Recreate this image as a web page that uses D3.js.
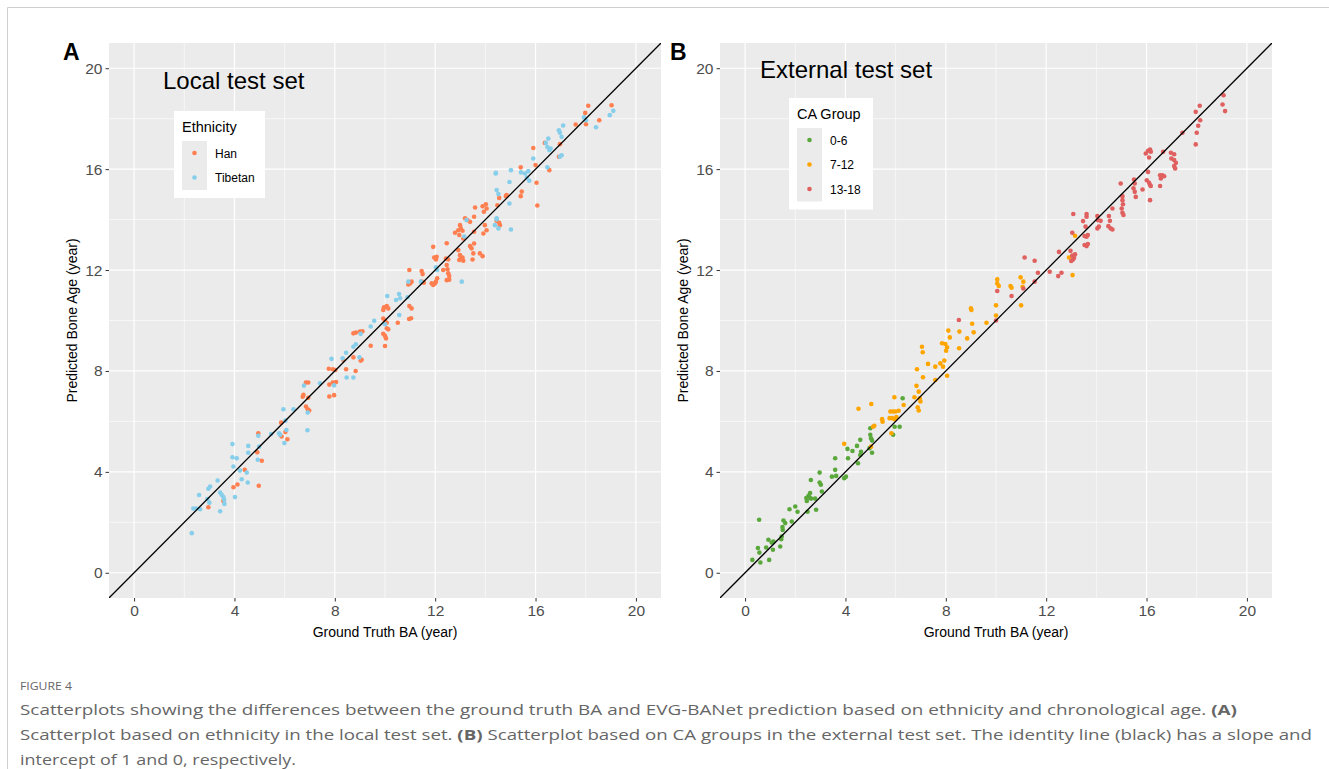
<!DOCTYPE html>
<html>
<head>
<meta charset="utf-8">
<script src="https://cdn.jsdelivr.net/npm/d3@7"></script>
<style>
  body { margin: 0; background: #fff; }
  svg { display: block; }
</style>
</head>
<body>
<svg id="fig" width="1329" height="769"></svg>
<script>
// tick values shared by both panels
const ticks = [0, 4, 8, 12, 16, 20];
const minorTicks = [2, 6, 10, 14, 18];

// panel A: [ground truth BA, predicted BA]
const hanPoints = [
  [2.96,2.60],[3.56,2.85],[3.96,3.39],[4.12,3.50],[4.41,4.08],[4.91,4.78],[5.09,4.44],[4.95,5.53],[4.97,3.45],
  [5.86,5.95],[6.03,5.58],[5.88,5.40],[6.11,5.29],[6.85,6.59],[6.92,6.48],[6.98,6.43],[6.94,6.94],[6.72,6.98],
  [6.75,7.05],[6.85,7.54],[6.94,7.54],[7.76,8.09],[7.92,8.07],[8.02,8.04],[7.78,7.46],[7.92,7.54],[8.05,7.56],
  [7.78,6.99],[7.97,7.04],[8.45,8.07],[8.83,8.0],[8.34,8.44],[8.74,8.54],[8.74,9.49],[8.84,9.52],
  [9.03,8.41],[9.07,8.44],[9.0,9.56],[9.10,9.57],[9.43,9.00],[9.93,9.47],[10.0,9.39],[10.04,9.29],[10.0,8.99],
  [10.07,9.69],[10.13,9.65],[9.93,10.08],[10.0,9.99],[10.07,9.91],[9.96,10.52],[10.07,10.57],[10.13,10.48],
  [9.93,10.42],[10.51,9.91],[10.97,10.57],[11.06,10.48],[10.96,10.06],[11.04,10.09],[11.0,11.47],[11.06,11.54],
  [10.93,11.43],[10.97,12.0],[11.46,11.96],[11.50,11.84],[11.55,11.50],[11.46,11.54],[11.92,12.92],[11.96,12.50],
  [12.03,12.42],[12.06,12.53],[11.99,11.47],[11.92,11.41],[12.03,11.54],[12.08,11.67],[11.86,11.47],[12.46,13.06],
  [12.43,12.46],[12.52,12.42],[12.46,12.20],[12.49,12.03],[12.52,11.87],[12.56,11.76],[12.46,11.60],[12.56,11.62],
  [12.32,12.0],[12.79,13.48],[12.92,13.58],[13.02,13.65],[13.09,13.56],[12.96,13.39],[13.12,13.25],[12.99,13.78],
  [13.19,14.05],[13.28,13.98],[13.39,13.91],[13.55,14.11],[13.59,14.48],[13.89,14.53],[14.02,14.61],[14.05,14.44],
  [13.94,14.31],[13.98,13.78],[14.05,13.58],[13.92,13.45],[13.55,13.52],[12.92,12.79],[12.99,12.59],[13.02,12.46],
  [13.09,12.50],[12.96,12.40],[13.12,12.37],[13.39,12.95],[13.45,12.86],[13.55,13.05],[13.52,12.66],[13.78,12.66],
  [13.89,12.55],[13.49,12.42],[14.45,13.95],[14.55,13.87],[14.58,13.78],[14.85,14.97],
  [18.10,18.51],[19.03,18.53],[17.98,18.23],[18.01,17.78],[18.54,17.94],[17.60,17.77],[16.37,17.04],[16.97,16.99],
  [16.93,16.49],[16.55,15.96],[15.91,16.84],[16.0,16.16],[16.04,15.46],[16.07,14.56],[15.41,16.07],[15.45,15.11],
  [15.41,14.93],[14.82,14.93],[14.55,14.86],[14.48,14.57]
];
const tibetanPoints = [
  [2.30,1.57],[2.36,2.55],[2.47,2.55],[2.63,2.52],[2.59,3.08],[2.92,2.92],[3.0,2.78],[2.96,3.33],[3.03,3.42],
  [3.33,3.66],[3.43,3.18],[3.49,3.09],[3.56,3.0],[3.59,2.89],[3.60,2.73],[3.43,2.44],[4.02,3.0],[4.29,3.71],
  [4.22,4.05],[4.49,3.97],[4.53,3.58],[3.96,4.21],[3.92,4.58],[4.09,4.54],[3.92,5.10],[4.55,5.03],[4.55,4.76],
  [4.98,5.0],[4.93,4.48],[4.95,5.43],[5.46,5.50],[5.78,5.53],[5.82,5.47],[5.99,5.14],[6.07,5.66],[5.95,6.48],
  [6.35,6.48],[6.03,6.03],[6.91,5.65],[6.92,6.35],[6.77,7.42],[7.41,7.51],[7.87,8.48],[7.97,7.43],[8.47,7.74],
  [8.74,7.74],[8.31,8.50],[8.45,8.72],[8.74,8.96],[8.84,9.06],[8.98,8.54],[9.03,9.47],[9.43,9.76],[9.57,9.99],
  [10.0,9.85],[10.09,10.97],[10.57,10.22],[10.44,10.81],[10.56,11.05],[10.60,10.88],[10.90,10.92],[10.93,11.54],
  [11.43,11.54],[12.03,12.11],[12.08,12.0],[13.06,11.54],[13.25,13.98],[13.16,13.33],[14.45,14.05],[14.52,13.65],
  [14.45,15.17],[14.52,15.01],[14.41,15.83],[19.10,18.31],[18.96,18.14],[17.93,18.05],[18.01,17.94],[18.41,17.66],
  [17.10,17.73],[16.93,17.54],[16.97,17.44],[17.04,17.28],[16.51,17.21],[16.41,17.04],[16.47,16.88],[16.55,16.75],
  [16.60,16.82],[17.04,16.55],[16.97,16.49],[16.47,16.07],[15.91,16.42],[15.71,15.92],[15.75,15.54],[15.65,15.67],
  [15.58,15.83],[15.02,15.96],[15.42,15.87],[14.96,15.49],[14.42,15.85],[14.96,14.64],[15.02,13.61],[14.45,14.01],
  [14.38,13.78]
];

// panel B: [ground truth BA, predicted BA] by CA group
const ca0to6 = [
  [0.29,0.51],[0.51,0.98],[0.57,0.80],[0.61,0.41],[0.56,2.10],[0.84,1.00],[0.93,1.31],[0.96,0.51],[1.06,1.20],
  [1.11,0.91],[1.13,1.24],[1.40,1.04],[1.44,1.33],[1.46,1.44],[1.49,1.81],[1.53,2.07],[1.50,1.70],[1.60,1.97],
  [1.77,2.52],[2.0,2.63],[2.09,2.42],[1.86,2.03],[2.46,2.85],[2.49,2.42],[2.44,2.96],[2.53,3.05],[2.59,3.16],
  [2.57,2.98],[2.63,2.94],[2.79,2.94],[2.83,2.50],[2.62,3.68],[2.97,3.58],[3.02,3.49],[3.06,3.22],[2.97,3.97],
  [3.46,3.81],[3.59,4.08],[3.63,3.84],[3.59,4.54],[3.95,3.75],[4.02,3.81],[4.08,4.91],[4.10,4.54],[4.28,4.83],
  [4.46,5.03],[4.59,5.27],[4.50,4.34],[4.62,4.80],[4.59,4.67],[4.99,5.73],[4.99,5.47],[5.02,5.33],[5.06,5.24],
  [5.06,4.76],[4.96,4.94],[5.90,5.47],[5.96,5.79],[6.16,5.79],[6.28,6.92]
];
const ca7to12 = [
  [3.95,5.11],[5.02,5.0],[4.52,6.50],[5.03,6.69],[5.10,5.79],[5.15,5.83],[5.46,6.09],[5.48,5.99],[5.76,6.13],
  [5.79,6.39],[5.90,6.39],[5.99,6.39],[6.12,6.42],[5.86,6.13],[5.96,6.09],[6.03,6.17],[5.83,5.53],[5.95,6.96],
  [6.32,6.65],[6.75,6.96],[6.83,7.41],[6.92,7.18],[6.96,6.92],[6.99,6.79],[6.88,6.56],[6.92,6.43],[7.58,7.64],
  [6.85,8.07],[7.09,7.75],[7.29,8.28],[7.58,8.17],[7.78,8.30],[7.89,8.17],[7.94,8.41],[8.05,7.81],[7.05,8.96],
  [7.08,8.74],[7.85,9.10],[7.98,9.07],[8.05,8.94],[8.01,8.80],[8.10,9.60],[8.16,9.33],[8.54,9.56],[8.53,8.90],
  [8.85,9.29],[9.11,9.53],[9.05,9.87],[9.0,10.48],[9.02,10.42],[9.62,9.91],[10.05,11.63],[10.05,11.47],[10.11,11.37],
  [10.58,11.37],[10.62,11.30],[10.98,11.71],[11.09,11.54],[11.06,11.34],[12.91,12.50],[13.15,13.36],[13.05,11.80],
  [10.0,10.6],[11.0,10.6],[10.0,10.2]
];
const ca13to18 = [
  [8.52,10.02],[11.09,11.27],[11.14,12.50],[11.54,12.37],[11.67,11.89],[11.54,11.54],[12.14,11.93],[12.51,12.72],
  [12.48,11.76],[12.61,11.89],[12.97,12.76],[13.04,12.57],[13.07,12.42],[13.11,12.49],[13.15,12.62],[13.0,12.36],
  [13.04,13.48],[13.08,14.22],[13.47,13.94],[13.53,13.35],[13.61,13.32],[13.66,13.39],[13.53,12.99],[13.61,12.95],
  [13.66,13.03],[13.57,13.72],[13.61,14.22],[13.61,14.11],[14.04,14.14],[14.06,13.98],[14.17,13.95],[14.04,13.65],
  [14.10,13.72],[14.50,14.14],[14.54,13.95],[14.48,13.74],[14.57,13.65],[14.64,13.61],[14.64,14.44],[14.97,15.43],
  [15.04,14.93],[15.04,14.77],[15.06,14.61],[15.01,14.44],[15.04,14.27],[15.08,14.18],[15.50,15.59],[15.53,15.43],
  [15.48,15.24],[15.53,15.10],[15.57,14.90],[15.84,15.19],[16.14,14.77],[16.01,15.56],[16.10,15.46],[16.14,15.37],
  [16.17,15.33],[16.06,15.89],[15.97,16.62],[16.06,16.73],[16.14,16.78],[16.17,16.69],[16.10,16.46],[16.54,15.76],
  [16.63,15.76],[16.70,15.72],[16.57,15.63],[16.54,15.33],[16.66,16.69],[16.97,16.65],[17.10,16.59],[16.99,16.42],
  [17.10,16.36],[17.17,16.25],[17.10,16.12],[17.14,16.03],[17.43,17.44],[17.96,18.27],[18.12,18.51],[18.14,17.94],
  [18.06,17.72],[18.00,17.44],[17.96,16.98],[19.07,18.93],[19.03,18.56],[19.13,18.30],[10.05,11.17],[10.62,10.97],
  [10.0,10.0]
];

const svg = d3.select("#fig");
const fontAxis = "'Liberation Sans', Arial, sans-serif";

// page frame
svg.append("path")
  .attr("d", "M7.5,769 V7.5 H1329")
  .attr("fill", "none")
  .attr("stroke", "#cfcfcf")
  .attr("stroke-width", 1);

function drawPanel(opt) {
  const width = 552, height = 555;
  const g = svg.append("g").attr("transform", "translate(" + opt.left + "," + opt.top + ")");

  const x = d3.scaleLinear().domain([-1, 21]).range([0, width]);
  const y = d3.scaleLinear().domain([-1, 21]).range([height, 0]);

  g.append("rect").attr("width", width).attr("height", height).attr("fill", "#EBEBEB");

  // grid
  g.selectAll(".vminor").data(minorTicks).enter().append("line")
    .attr("x1", d => x(d)).attr("x2", d => x(d)).attr("y1", 0).attr("y2", height)
    .attr("stroke", "#fff").attr("stroke-width", 0.6);
  g.selectAll(".hminor").data(minorTicks).enter().append("line")
    .attr("y1", d => y(d)).attr("y2", d => y(d)).attr("x1", 0).attr("x2", width)
    .attr("stroke", "#fff").attr("stroke-width", 0.6);
  g.selectAll(".vmajor").data(ticks).enter().append("line")
    .attr("x1", d => x(d)).attr("x2", d => x(d)).attr("y1", 0).attr("y2", height)
    .attr("stroke", "#fff").attr("stroke-width", 1.2);
  g.selectAll(".hmajor").data(ticks).enter().append("line")
    .attr("y1", d => y(d)).attr("y2", d => y(d)).attr("x1", 0).attr("x2", width)
    .attr("stroke", "#fff").attr("stroke-width", 1.2);

  // axes
  const xAxis = g.append("g").attr("transform", "translate(0," + height + ")")
    .call(d3.axisBottom(x).tickValues(ticks).tickSize(3.5).tickPadding(3));
  const yAxis = g.append("g")
    .call(d3.axisLeft(y).tickValues(ticks).tickSize(3.5).tickPadding(3));
  [xAxis, yAxis].forEach(a => {
    a.select(".domain").remove();
    a.selectAll(".tick line").attr("stroke", "#333").attr("stroke-width", 1);
    a.selectAll(".tick text").attr("fill", "#4D4D4D")
      .style("font-family", fontAxis).style("font-size", "15.5px");
  });

  // points
  opt.groups.forEach(grp => {
    g.append("g").selectAll("circle").data(grp.data).enter().append("circle")
      .attr("cx", d => x(d[0]))
      .attr("cy", d => y(d[1]))
      .attr("r", 2.3)
      .attr("fill", grp.color);
  });

  // identity line
  const clipId = "clip" + opt.tag;
  g.append("clipPath").attr("id", clipId).append("rect").attr("width", width).attr("height", height);
  g.append("line")
    .attr("clip-path", "url(#" + clipId + ")")
    .attr("x1", x(-1)).attr("y1", y(-1)).attr("x2", x(21)).attr("y2", y(21))
    .attr("stroke", "#000").attr("stroke-width", 1.3);

  // axis titles
  g.append("text")
    .attr("x", width / 2).attr("y", height + 39)
    .attr("text-anchor", "middle")
    .style("font-family", fontAxis).style("font-size", "14px")
    .text("Ground Truth BA (year)");
  g.append("text")
    .attr("transform", "translate(" + (-32) + "," + (height / 2) + ") rotate(-90)")
    .attr("text-anchor", "middle")
    .style("font-family", fontAxis).style("font-size", "14px")
    .text("Predicted Bone Age (year)");

  // panel letter and subtitle
  g.append("text")
    .attr("x", opt.letterX).attr("y", 17)
    .style("font-family", fontAxis).style("font-size", "23px").style("font-weight", "bold")
    .text(opt.tag);
  g.append("text")
    .attr("x", opt.titleX).attr("y", opt.titleY)
    .style("font-family", fontAxis).style("font-size", "24px")
    .text(opt.title);

  // legend
  const lg = g.append("g").attr("transform", "translate(" + opt.legend.x + "," + opt.legend.y + ")");
  const rows = opt.groups.length;
  lg.append("rect").attr("width", opt.legend.w).attr("height", 38 + rows * 24.5).attr("fill", "#fff");
  lg.append("text").attr("x", 8).attr("y", 21)
    .style("font-family", fontAxis).style("font-size", "14.5px")
    .text(opt.legend.title);
  lg.append("rect").attr("x", 8).attr("y", 30).attr("width", 25).attr("height", rows * 24.5)
    .attr("fill", "#EBEBEB");
  opt.groups.forEach((grp, i) => {
    lg.append("circle").attr("cx", 20.5).attr("cy", 42 + i * 24.5).attr("r", 2.3).attr("fill", grp.color);
    lg.append("text").attr("x", 41).attr("y", 46.5 + i * 24.5)
      .style("font-family", fontAxis).style("font-size", "12px")
      .text(grp.name);
  });
}

drawPanel({
  tag: "A", left: 109, top: 43, letterX: -46, titleX: 54, titleY: 46,
  title: "Local test set",
  legend: { x: 65, y: 68, w: 91, title: "Ethnicity" },
  groups: [
    { name: "Han", color: "#FF7F50", data: hanPoints },
    { name: "Tibetan", color: "#87CEEB", data: tibetanPoints }
  ]
});

drawPanel({
  tag: "B", left: 720, top: 43, letterX: -50, titleX: 40, titleY: 35,
  title: "External test set",
  legend: { x: 69, y: 55, w: 84, title: "CA Group" },
  groups: [
    { name: "0-6", color: "#5AA83C", data: ca0to6 },
    { name: "7-12", color: "#FFA500", data: ca7to12 },
    { name: "13-18", color: "#E05F5F", data: ca13to18 }
  ]
});

// caption
const capFont = "'Open Sans', 'Noto Sans', sans-serif";
svg.append("text").attr("x", 20).attr("y", 690)
  .attr("fill", "#666").style("font-family", capFont).style("font-size", "11.5px")
  .attr("textLength", 52).attr("lengthAdjust", "spacingAndGlyphs")
  .text("FIGURE 4");

const capLines = [
  { w: 1217, parts: [["Scatterplots showing the differences between the ground truth BA and EVG-BANet prediction based on ethnicity and chronological age. ", false], ["(A)", true]] },
  { w: 1292, parts: [["Scatterplot based on ethnicity in the local test set. ", false], ["(B)", true], [" Scatterplot based on CA groups in the external test set. The identity line (black) has a slope and", false]] },
  { w: 276, parts: [["intercept of 1 and 0, respectively.", false]] }
];
capLines.forEach((ln, i) => {
  const t = svg.append("text").attr("x", 20).attr("y", 715 + i * 25)
    .attr("fill", "#666").style("font-family", capFont).style("font-size", "15px")
    .attr("textLength", ln.w).attr("lengthAdjust", "spacingAndGlyphs");
  ln.parts.forEach(p => {
    t.append("tspan").style("font-weight", p[1] ? "bold" : "normal").text(p[0]);
  });
});
</script>
</body>
</html>
